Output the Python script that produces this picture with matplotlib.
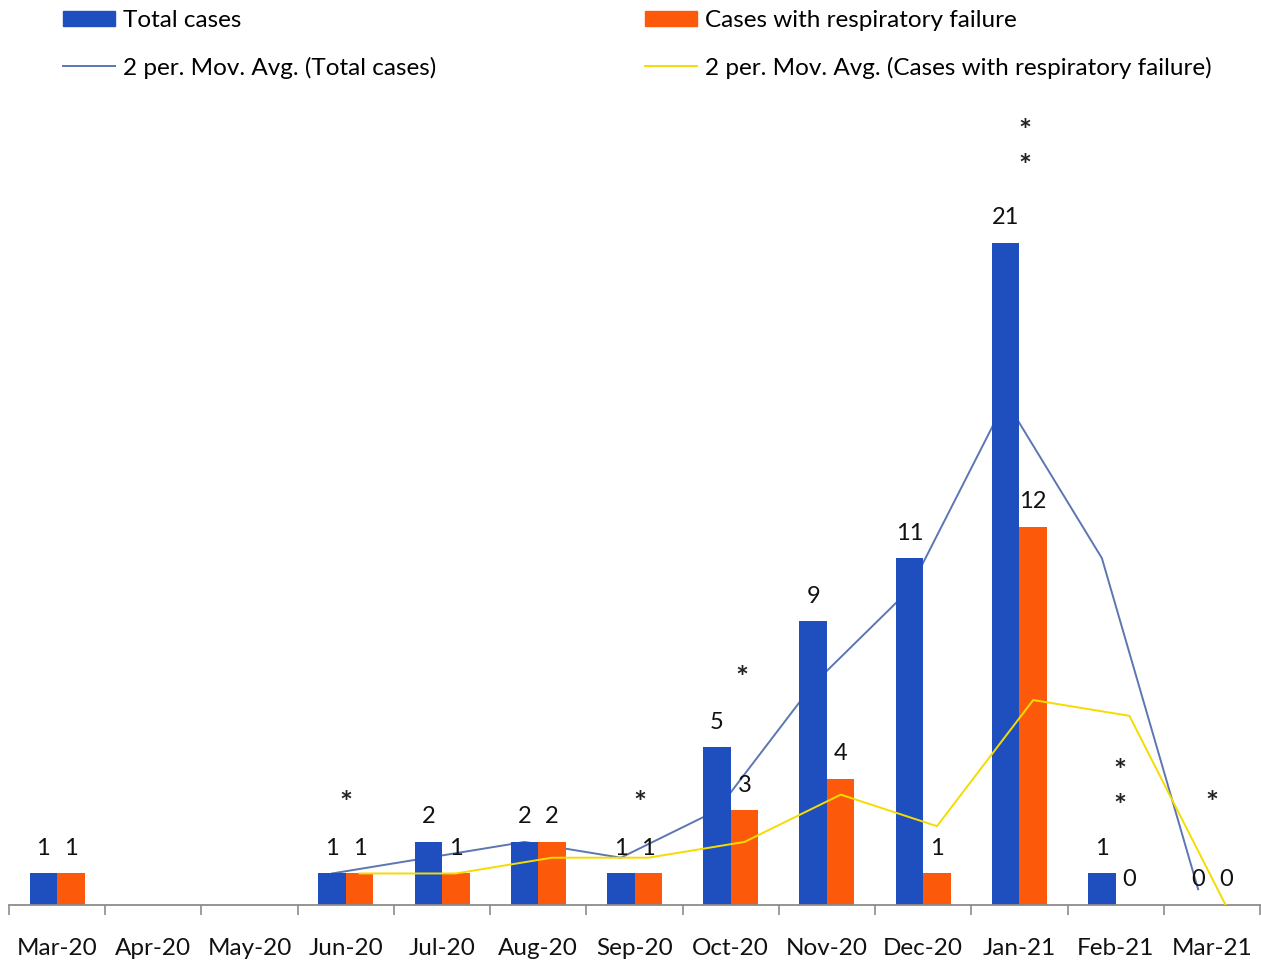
import numpy as np
import matplotlib
matplotlib.use("Agg")
import matplotlib.pyplot as plt
from matplotlib.lines import Line2D
from matplotlib.patches import Patch

plt.rcParams["font.family"] = ["Lato", "DejaVu Sans"]

months = ["Mar-20", "Apr-20", "May-20", "Jun-20", "Jul-20", "Aug-20", "Sep-20",
          "Oct-20", "Nov-20", "Dec-20", "Jan-21", "Feb-21", "Mar-21"]
total_cases = [1, np.nan, np.nan, 1, 2, 2, 1, 5, 9, 11, 21, 1, 0]
resp_failure = [1, np.nan, np.nan, 1, 1, 2, 1, 3, 4, 1, 12, 0, 0]
total_mavg = [np.nan, np.nan, np.nan, 1, 1.5, 2, 1.5, 3, 7, 10, 16, 11, 0.5]
resp_mavg = [np.nan, np.nan, np.nan, 1, 1, 1.5, 1.5, 2, 3.5, 2.5, 6.5, 6, 0]

BLUE = "#1f4fbf"
ORANGE = "#fc5a0a"
SLATE = "#5b76b2"
YELLOW = "#f5dc00"
TEXT = "#111111"

W, H, DPI = 1261, 961, 100
fig = plt.figure(figsize=(W / DPI, H / DPI), dpi=DPI)

# axes frame in pixels
x0, x1 = 9, 1260
y_axis, y_top = 905, 101
ax = fig.add_axes([x0 / W, (H - y_axis) / H, (x1 - x0) / W, (y_axis - y_top) / H])

x = np.arange(len(months))
bw = 0.286
xb = x - bw / 2
xo = x + bw / 2

ax.plot(xb, total_mavg, color=SLATE, lw=1.4, zorder=1)
ax.bar(xb, np.nan_to_num(total_cases), width=bw, color=BLUE, zorder=2)
ax.bar(xo, np.nan_to_num(resp_failure), width=bw, color=ORANGE, zorder=2)
ax.plot(xo, resp_mavg, color=YELLOW, lw=1.4, zorder=3)

label_kw = dict(textcoords="offset points", ha="center", va="center",
                fontsize=17, color=TEXT, zorder=5)
for xi, v in zip(xb, total_cases):
    if not np.isnan(v):
        ax.annotate(f"{int(v)}", (xi, v), xytext=(0, 18), **label_kw)
for xi, v in zip(xo, resp_failure):
    if not np.isnan(v):
        ax.annotate(f"{int(v)}", (xi, v), xytext=(0, 18), **label_kw)

# significance markers above selected months
markers = [(3.0, 3.43), (6.06, 3.43), (7.12, 7.39), (10.06, 24.75), (10.06, 23.64),
           (11.04, 4.44), (11.04, 3.33), (12.0, 3.43)]
for mx, my in markers:
    ax.annotate("*", (mx, my), xytext=(0, -5), textcoords="offset points",
                ha="center", va="center", fontsize=22, color="#222222",
                fontweight="bold", zorder=5)

ax.set_xlim(-0.5, len(months) - 0.5)
ax.set_ylim(0, 25.5)
ax.set_xticks(x)
ax.set_xticklabels(months, fontsize=17.5, color=TEXT)
ax.set_xticks(np.arange(-0.5, len(months), 1.0), minor=True)
ax.tick_params(axis="x", which="major", length=0, pad=24)
ax.tick_params(axis="x", which="minor", length=7, width=1.2, color="#8c8c8c")
ax.set_yticks([])
for s in ["left", "right", "top"]:
    ax.spines[s].set_visible(False)
ax.spines["bottom"].set_color("#8c8c8c")
ax.spines["bottom"].set_linewidth(1.3)

leg_kw = dict(loc="upper left", frameon=False, fontsize=17.5, borderpad=0,
              borderaxespad=0, handlelength=2.15, handletextpad=0.3,
              labelspacing=1.05, handleheight=0.6)
fig.legend(handles=[Patch(color=BLUE), Line2D([], [], color=SLATE, lw=1.4)],
           labels=["Total cases", "2 per. Mov. Avg. (Total cases)"],
           bbox_to_anchor=(63 / W, 1 - 10 / H), **leg_kw)
fig.legend(handles=[Patch(color=ORANGE), Line2D([], [], color=YELLOW, lw=1.4)],
           labels=["Cases with respiratory failure",
                   "2 per. Mov. Avg. (Cases with respiratory failure)"],
           bbox_to_anchor=(645 / W, 1 - 10 / H), **leg_kw)

fig.savefig("out.png", dpi=DPI)
